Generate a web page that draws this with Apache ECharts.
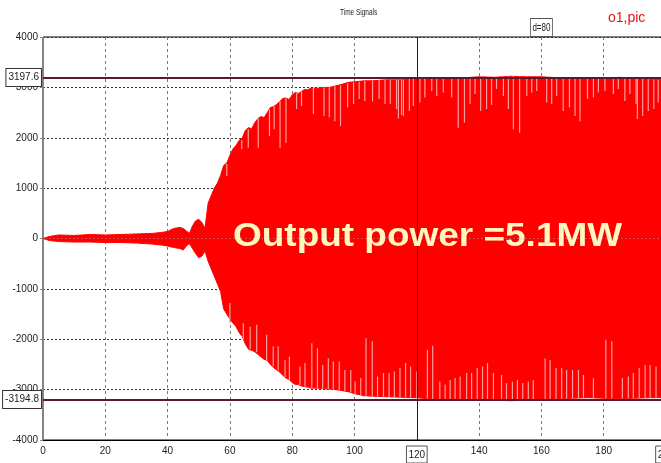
<!DOCTYPE html>
<html>
<head>
<meta charset="utf-8">
<script src="https://cdn.jsdelivr.net/npm/echarts@6/dist/echarts.min.js"></script>
<style>
  html, body { margin: 0; padding: 0; background: #fff; }
  #main { width: 661px; height: 463px; }
</style>
</head>
<body>
<div id="main"></div>
<script>
// envelope sample times
var times = [0, 2, 5, 10, 15, 20, 25, 30, 35, 38, 40, 42, 44, 45, 46, 47, 48, 49, 50, 51, 52,
  53, 54, 55, 56, 57, 58, 59, 60, 61, 62, 63, 64, 65, 66, 67, 68, 69, 70, 71, 72, 73, 74, 75, 76, 77, 78, 79, 80, 81, 82, 83, 84, 85, 86,
  88, 90, 92, 94, 96, 98, 100, 103, 106, 110, 115, 118,
  120, 125, 130, 135, 140, 145, 150, 155, 160, 165, 170, 175, 180, 185, 190, 195, 200];
// upper envelope
var upper = [0, 40, 70, 60, 80, 70, 80, 90, 100, 120, 140, 200, 220, 200, 150, 100, 250, 350, 380, 320, 200,
  700, 850, 1000, 1100, 1250, 1450, 1500, 1650, 1780, 1850, 1950, 2000, 2150, 2200, 2180, 2300, 2380, 2420, 2400, 2500, 2600, 2620, 2660, 2720, 2780, 2790, 2760, 2850, 2900, 2880, 2920, 2960, 2950, 2990,
  2980, 3000, 3000, 3030, 3060, 3100, 3110, 3130, 3130, 3150, 3150, 3170,
  3180, 3190, 3195, 3190, 3210, 3200, 3220, 3210, 3210, 3190, 3180, 3170, 3180, 3200, 3180, 3160, 3150];
// lower envelope
var lower = [0, -40, -60, -70, -70, -80, -80, -90, -110, -130, -150, -180, -200, -230, -150, -100, -200, -300, -380, -350, -250,
  -450, -600, -750, -900, -1050, -1400, -1500, -1600, -1680, -1750, -1870, -1950, -2100, -2200, -2220, -2250, -2300, -2350, -2400, -2420, -2500, -2560, -2610, -2650, -2720, -2770, -2800, -2860, -2900, -2900, -2930, -2940, -2950, -2970,
  -2970, -2980, -2990, -3000, -3020, -3040, -3080, -3120, -3130, -3140, -3150, -3160,
  -3160, -3190, -3200, -3200, -3190, -3210, -3220, -3210, -3200, -3190, -3170, -3160, -3170, -3180, -3170, -3160, -3160];
// light gaps between oscillations: [time, outer value, inner value]
var upperGaps = [[59.0, 1480, 1240], [63.8, 1950, 1770], [65.9, 2170, 1800], [69.1, 2380, 1800], [72.7, 2560, 2040], [74.2, 2630, 2170],
  [76.1, 2730, 1800], [78.0, 2790, 1900], [81.4, 2890, 2570], [83.0, 2920, 2630], [86.8, 2990, 2470], [90.2, 3000, 2430], [91.9, 3000, 2400],
  [93.7, 3020, 2330], [95.5, 3040, 2230], [97.8, 3080, 2600], [99.7, 3100, 2670], [101.5, 3110, 2770], [103.3, 3130, 2730], [105.8, 3130, 2720],
  [107.9, 3140, 2770], [109.8, 3150, 2670], [111.5, 3150, 2670], [113.5, 3150, 2570], [114.1, 3150, 2380], [115.1, 3150, 2450], [115.7, 3155, 2430],
  [117.6, 3165, 2530], [118.9, 3170, 2630], [121.0, 3185, 2700], [122.6, 3185, 2800], [124.8, 3185, 2930], [126.4, 3190, 2830], [128.5, 3195, 2900],
  [131.2, 3195, 2800], [133.3, 3190, 2200], [135.3, 3190, 2300], [137.1, 3195, 2670], [138.7, 3200, 2870], [140.5, 3210, 2530], [142.4, 3205, 2570],
  [144.0, 3200, 2650], [145.6, 3200, 2970], [147.8, 3210, 2830], [149.4, 3215, 2570], [151.0, 3220, 2170], [153.0, 3215, 2100], [155.3, 3210, 2830],
  [156.9, 3210, 2900], [158.5, 3210, 2930], [161.7, 3210, 2700], [163.3, 3210, 2670], [164.9, 3205, 2830], [167.0, 3200, 2530], [169.0, 3195, 2600],
  [170.8, 3190, 2430], [172.4, 3185, 2330], [174.8, 3180, 2770], [176.7, 3180, 2800], [178.3, 3180, 2900], [180.4, 3185, 2930], [183.1, 3195, 2870],
  [184.7, 3190, 2970], [186.8, 3180, 2730], [188.4, 3175, 2870], [190.4, 3170, 2670], [190.8, 3170, 2370], [192.5, 3165, 2430], [194.3, 3160, 2530],
  [196.1, 3155, 2570], [197.5, 3150, 2700]];
var lowerGaps = [[60.0, -1680, -1280], [64.3, -2000, -1680], [66.5, -2200, -1750], [68.6, -2260, -1710], [71.8, -2420, -1910], [73.9, -2540, -2140],
  [75.5, -2620, -2140], [77.7, -2750, -2410], [79.1, -2810, -2340], [82.5, -2910, -2540], [84.1, -2940, -2470], [86.3, -2970, -2080], [88.1, -2970, -2180],
  [89.8, -2980, -2510], [91.6, -2990, -2380], [93.2, -3000, -2440], [95.1, -3020, -2440], [96.9, -3030, -2610], [98.8, -3050, -2610], [100.2, -3090, -2840],
  [102.0, -3110, -2770], [103.7, -3120, -1980], [105.7, -3130, -2040], [107.4, -3135, -2740], [109.3, -3140, -2670], [111.1, -3145, -2670], [112.8, -3150, -2640],
  [114.6, -3150, -2570], [116.4, -3155, -2470], [118.0, -3160, -2540], [120.0, -3160, -2640], [123.4, -3180, -2210], [125.1, -3190, -2130], [127.4, -3195, -2840],
  [129.1, -3200, -2900], [130.7, -3200, -2810], [132.3, -3200, -2770], [133.9, -3200, -2740], [136.0, -3200, -2670], [137.6, -3195, -2670], [139.4, -3190, -2570],
  [141.1, -3195, -2540], [142.7, -3200, -2470], [144.6, -3210, -2670], [147.2, -3215, -2710], [148.8, -3220, -2870], [150.7, -3220, -2840], [152.3, -3215, -2810],
  [154.0, -3210, -2870], [155.8, -3210, -2840], [157.4, -3205, -2810], [161.2, -3200, -2380], [162.8, -3195, -2410], [164.7, -3190, -2570], [166.5, -3185, -2570],
  [168.1, -3180, -2610], [170.0, -3170, -2610], [171.9, -3165, -2610], [173.5, -3160, -2710], [176.7, -3165, -2770], [180.7, -3170, -2010], [182.6, -3175, -2040],
  [186.0, -3175, -2770], [187.9, -3170, -2740], [189.5, -3170, -2670], [191.4, -3165, -2570], [193.3, -3160, -2510], [194.9, -3160, -2510], [196.8, -3160, -2540]];
var cursorLevels = [3197.6, -3194.8];
var cursorX = [120, 200];

var font = '"Liberation Sans", Arial, sans-serif';
var myChart = echarts.init(document.getElementById('main'));

function pairs(vals) {
  return times.map(function (t, i) { return [t, vals[i]]; });
}

function renderGap(params, api) {
  var p1 = api.coord([api.value(0), api.value(1)]);
  var p2 = api.coord([api.value(0), api.value(2)]);
  return {
    type: 'line',
    shape: { x1: p1[0], y1: p1[1], x2: p2[0], y2: p2[1] },
    style: { stroke: '#ff9c9c', lineWidth: 1.2 }
  };
}

var boxLabel = {
  position: 'start', fontFamily: font, fontSize: 10, color: '#222',
  backgroundColor: '#fff', borderColor: '#333', borderWidth: 1, padding: [4, 2, 3, 2], distance: 2
};

var option = {
  animation: false,
  grid: { left: 43, right: -5, top: 37, bottom: 23, outerBoundsMode: 'none', show: true, borderColor: '#000', borderWidth: 1 },
  xAxis: {
    type: 'value', min: 0, max: 200, interval: 20,
    axisLine: { onZero: false, lineStyle: { color: '#000' } },
    axisTick: { show: false },
    axisLabel: {
      fontFamily: font, fontSize: 10, color: '#222', margin: 6,
      formatter: function (v) { return cursorX.indexOf(v) >= 0 ? '{box|' + v + '}' : String(v); },
      rich: { box: { fontFamily: font, fontSize: 10, color: '#222', borderColor: '#555', borderWidth: 1, padding: [4, 2, 3, 2] } }
    },
    splitLine: { show: true, lineStyle: { color: '#777', type: [3, 3], width: 1 } }
  },
  yAxis: {
    type: 'value', min: -4000, max: 4000, interval: 1000,
    axisLine: { show: true, lineStyle: { color: '#888' } },
    axisTick: { show: true, length: 3, lineStyle: { color: '#888' } },
    axisLabel: { fontFamily: font, fontSize: 10, color: '#222', margin: 5, formatter: function (v) { return String(v); } },
    splitLine: { show: true, lineStyle: { color: '#333', type: [2, 2], width: 1 } }
  },
  series: [
    {
      type: 'line', data: pairs(upper), symbol: 'none', smooth: false,
      lineStyle: { color: '#ff0000', width: 1 },
      areaStyle: { color: '#ff0000', opacity: 1, origin: 0 },
      z: 3
    },
    {
      type: 'line', data: pairs(lower), symbol: 'none', smooth: false,
      lineStyle: { color: '#ff0000', width: 1 },
      areaStyle: { color: '#ff0000', opacity: 1, origin: 0 },
      z: 3
    },
    { type: 'custom', data: upperGaps, renderItem: renderGap, encode: { x: 0, y: [1, 2] }, z: 4, silent: true },
    { type: 'custom', data: lowerGaps, renderItem: renderGap, encode: { x: 0, y: [1, 2] }, z: 4, silent: true },
    {
      type: 'line', data: [], z: 5,
      markLine: {
        silent: true, symbol: 'none',
        data: [
          { yAxis: cursorLevels[0], lineStyle: { color: '#5a1a2e', width: 2, type: 'solid' },
            label: Object.assign({ formatter: String(cursorLevels[0]) }, boxLabel) },
          { yAxis: cursorLevels[1], lineStyle: { color: '#5a1a2e', width: 2, type: 'solid' },
            label: Object.assign({ formatter: String(cursorLevels[1]) }, boxLabel) },
          { xAxis: cursorX[0], lineStyle: { color: '#3a1020', width: 1, type: 'solid' }, label: { show: false } }
        ]
      }
    }
  ]
};
myChart.setOption(option);

// cursor distance box and annotations
var mid = myChart.convertToPixel({ xAxisIndex: 0 }, (cursorX[0] + cursorX[1]) / 2);
myChart.setOption({
  graphic: [
    { type: 'text', x: 340, y: 8, scaleX: 0.72, style: { text: 'Time Signals', font: '9px ' + font, fill: '#222' } },
    { type: 'text', x: 608, y: 11, style: { text: 'o1,pic', font: '14px ' + font, fill: '#ee1111' } },
    { type: 'text', x: mid, y: 19, scaleX: 0.8, style: { text: 'd=80', font: '10px ' + font, fill: '#222', align: 'center',
        verticalAlign: 'top', backgroundColor: '#fff', borderColor: '#555', borderWidth: 1, padding: [4, 2, 3, 2] }, z: 10 },
    { type: 'text', x: 233, y: 236.5, scaleX: 1.12, style: { text: 'Output power =5.1MW', font: 'bold 33px ' + font,
        fill: '#fff6c0', verticalAlign: 'middle' }, z: 10 }
  ]
});
</script>
</body>
</html>
